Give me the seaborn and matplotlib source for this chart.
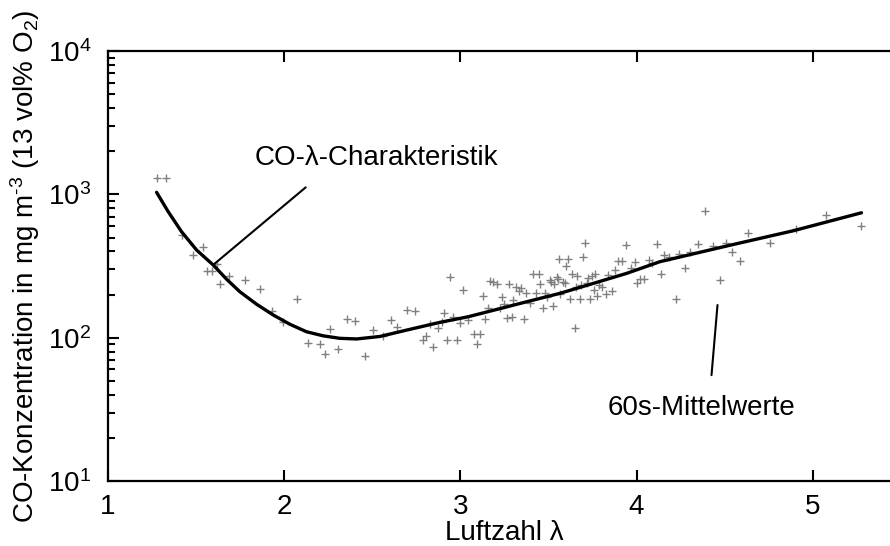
import numpy as np
import pandas as pd
import seaborn as sns
import matplotlib.pyplot as plt
from matplotlib.ticker import LogLocator, NullFormatter

# 60s mean values (Luftzahl, CO in mg/m3)
lam_pts = [1.276, 1.329, 1.418, 1.541, 1.484, 1.560, 1.588, 1.617, 1.688, 1.635,
           1.777, 1.862, 2.071, 1.929, 1.995, 2.137, 2.203, 2.231, 2.303, 2.259,
           2.354, 2.401, 2.458, 2.502, 2.559, 2.604, 2.638, 2.695, 2.742, 2.940,
           3.012, 2.789, 2.804, 2.846, 2.922, 2.978, 2.827, 2.871, 2.906, 2.893,
           2.959, 2.997, 3.044, 3.077, 3.111, 3.092, 3.126, 3.141, 3.158, 3.167,
           3.186, 3.205, 3.234, 3.224, 3.247, 3.262, 3.290, 3.277, 3.300, 3.315,
           3.342, 3.334, 3.360, 3.372, 3.394, 3.410, 3.444, 3.428, 3.451, 3.470,
           3.479, 3.492, 3.508, 3.512, 3.523, 3.531, 3.546, 3.555, 3.565, 3.557,
           3.612, 3.599, 3.583, 3.593, 3.621, 3.650, 3.633, 3.663, 3.678, 3.655,
           3.687, 3.693, 3.706, 3.716, 3.725, 3.744, 3.763, 3.735, 3.773, 3.759,
           3.788, 3.801, 3.826, 3.858, 3.839, 3.877, 3.896, 3.918, 3.939, 3.966,
           3.990, 4.003, 4.022, 4.043, 4.071, 4.090, 4.113, 4.138, 4.155, 4.185,
           4.221, 4.241, 4.274, 4.302, 4.346, 4.387, 4.431, 4.472, 4.506, 4.539,
           4.586, 4.633, 4.756, 4.907, 5.072, 5.276]
co_pts = [1306, 1306, 520, 431, 378, 292, 292, 325, 270, 238,
          251, 217, 186, 153, 129, 92, 91, 77, 84, 115,
          134, 131, 74, 114, 102, 133, 118, 156, 153, 264,
          215, 96, 103, 86, 96, 96, 124, 116, 148, 129,
          140, 127, 133, 106, 106, 91, 195, 134, 162, 250,
          246, 236, 193, 162, 171, 138, 140, 236, 183, 227,
          223, 212, 135, 206, 174, 278, 278, 206, 236, 160,
          204, 193, 253, 243, 166, 236, 266, 257, 201, 352,
          352, 318, 246, 239, 186, 116, 278, 270, 186, 227,
          233, 367, 460, 239, 259, 270, 277, 186, 195, 215,
          233, 227, 201, 212, 274, 296, 343, 343, 443, 308,
          339, 239, 255, 255, 348, 330, 450, 277, 378, 367,
          186, 384, 305, 394, 450, 769, 438, 253, 460, 394,
          344, 540, 460, 570, 718, 604]

# CO-lambda characteristic curve
lam_curve = [1.276, 1.342, 1.418, 1.503, 1.598, 1.673, 1.749, 1.844, 1.938, 2.033,
             2.127, 2.222, 2.316, 2.411, 2.543, 2.695, 2.884, 3.044, 3.375, 3.565,
             3.753, 3.943, 4.132, 4.510, 4.888, 5.276]
co_curve = [1033, 757, 548, 409, 321, 256, 209, 171, 144, 124,
            110, 103, 99, 98, 102, 113, 128, 140, 178, 204,
            239, 281, 339, 436, 557, 744]

pts = pd.DataFrame({'lam': lam_pts, 'co': co_pts})
curve = pd.DataFrame({'lam': lam_curve, 'co': co_curve})

sns.set_theme(style='ticks')
plt.rcParams['font.family'] = ['Liberation Sans', 'DejaVu Sans']
plt.rcParams['mathtext.fontset'] = 'custom'
plt.rcParams['mathtext.rm'] = 'Liberation Sans'
plt.rcParams['mathtext.it'] = 'Liberation Sans'
plt.rcParams['text.color'] = 'black'
plt.rcParams['axes.labelcolor'] = 'black'
plt.rcParams['xtick.color'] = 'black'
plt.rcParams['ytick.color'] = 'black'

fig = plt.figure(figsize=(8.9, 5.46), dpi=100)
ax = fig.add_axes([0.1213, 0.119, 0.891, 0.7875])

sns.scatterplot(data=pts, x='lam', y='co', marker='+', s=40, color='#808080',
                linewidth=1.0, ax=ax, zorder=2)
sns.lineplot(data=curve, x='lam', y='co', color='black', linewidth=2.4, ax=ax, zorder=3)

ax.set_yscale('log')
ax.set_xlim(1, 5.5)
ax.set_ylim(10, 10000)
ax.set_xticks([1, 2, 3, 4, 5])
ax.yaxis.set_major_locator(LogLocator(base=10, numticks=10))
ax.yaxis.set_minor_locator(LogLocator(base=10, subs=np.arange(2, 10), numticks=10))
ax.yaxis.set_minor_formatter(NullFormatter())

ax.tick_params(which='both', direction='in', top=True, right=True, width=1.5,
               colors='black', labelsize=20)
ax.tick_params(which='major', length=8)
ax.tick_params(which='minor', length=5)
ax.tick_params(axis='x', pad=9)
ax.tick_params(axis='y', pad=12)
for sp in ax.spines.values():
    sp.set_linewidth(1.6)
    sp.set_color('black')

ax.set_xlabel('Luftzahl λ', fontsize=20, labelpad=0)
ax.set_ylabel('CO-Konzentration in mg m$^{\\text{-3}}$ (13 vol% O$_2$)', fontsize=20, labelpad=4)

# annotations
ax.plot([1.601, 2.122], [325, 1119], color='black', linewidth=1.5)
ax.text(1.834, 1791, 'CO-λ-Charakteristik', fontsize=20, va='center', ha='left')
ax.plot([4.459, 4.425], [169, 54.8], color='black', linewidth=1.5)
ax.text(3.837, 32.3, '60s-Mittelwerte', fontsize=20, va='center', ha='left')

plt.savefig('out.png', dpi=100)
